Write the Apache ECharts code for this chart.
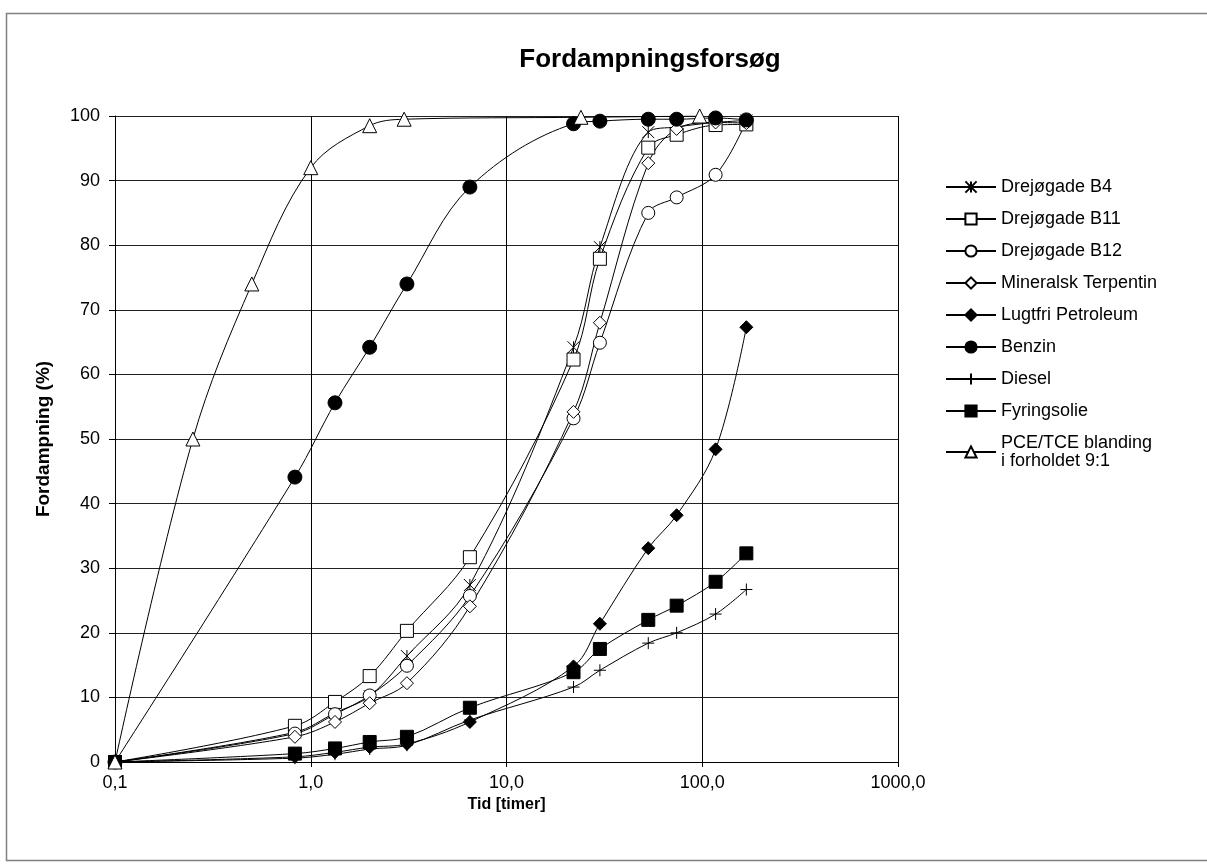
<!DOCTYPE html>
<html>
<head>
<meta charset="utf-8">
<script src="https://cdn.jsdelivr.net/npm/echarts@6/dist/echarts.min.js"></script>
<style>
html,body{margin:0;padding:0;background:#fff;}
#chart{width:1207px;height:868px;}
</style>
</head>
<body>
<div id="chart"></div>
<script>
// ---- data ----
const tid = [0.1, 0.83, 1.33, 2.0, 3.1, 6.5, 22, 30, 53, 74, 117, 168];
const drejogadeB4 = [0, 4.6, 7.6, 10.2, 16.4, 27.4, 64.2, 79.7, 97.5, 98.3, 99.0, 99.3];
const drejogadeB11 = [0, 5.6, 9.3, 13.3, 20.3, 31.7, 62.3, 77.9, 95.1, 97.1, 98.6, 98.7];
const drejogadeB12 = [0, 4.4, 7.4, 10.3, 14.9, 25.7, 53.2, 64.9, 85.0, 87.4, 90.9, 99.2];
const mineralskTerpentin = [0, 3.9, 6.2, 9.1, 12.2, 24.1, 54.2, 68.0, 92.7, 98.0, 99.0, 98.9];
const lugtfriPetroleum = [0, 0.8, 1.5, 2.3, 2.8, 6.2, 14.8, 21.4, 33.1, 38.2, 48.4, 67.3];
const benzin = [0, 44.1, 55.6, 64.2, 74.0, 89.0, 98.8, 99.2, 99.5, 99.5, 99.7, 99.4];
const diesel = [0, 0.6, 1.2, 2.0, 2.6, 6.5, 11.6, 14.2, 18.4, 20.0, 22.9, 26.7];
const fyringsolie = [0, 1.3, 2.1, 3.1, 3.9, 8.4, 13.9, 17.5, 22.0, 24.2, 27.9, 32.3];
const pceTid = [0.1, 0.25, 0.5, 1.0, 2.0, 3.0, 24, 97];
const pceTce = [0, 50, 74, 92, 98.5, 99.5, 99.8, 100];
const xTickLabels = {0.1: '0,1', 1: '1,0', 10: '10,0', 100: '100,0', 1000: '1000,0'};
const seriesNames = ['Drejøgade B4', 'Drejøgade B11', 'Drejøgade B12', 'Mineralsk Terpentin',
  'Lugtfri Petroleum', 'Benzin', 'Diesel', 'Fyringsolie', 'PCE/TCE blanding\ni forholdet 9:1'];

// ---- build ----
const FONT = '"Liberation Sans", Arial, sans-serif';
const pair = (xs, ys) => xs.map((x, i) => [x, ys[i]]);
const open = {color: '#fff', borderColor: '#000', borderWidth: 1};
const filled = {color: '#000', borderColor: '#000', borderWidth: 1};
const defs = [
  [drejogadeB4, 'path://M0,0L10,10M10,0L0,10M5,0L5,10', 12, filled, tid],
  [drejogadeB11, 'rect', 13, open, tid],
  [drejogadeB12, 'circle', 13, open, tid],
  [mineralskTerpentin, 'diamond', 13, open, tid],
  [lugtfriPetroleum, 'diamond', 13, filled, tid],
  [benzin, 'circle', 14, filled, tid],
  [diesel, 'path://M5,0L5,10M0,5L10,5', 12, filled, tid],
  [fyringsolie, 'rect', 13, filled, tid],
  [pceTce, 'triangle', 14, open, pceTid]
];
const series = defs.map((d, i) => ({
  name: seriesNames[i],
  type: 'line',
  data: pair(d[4], d[0]),
  symbol: d[1],
  symbolSize: d[2],
  smooth: 0.35,
  itemStyle: d[3],
  lineStyle: {color: '#000', width: 1},
  emphasis: {disabled: true},
  animation: false
}));

const chart = echarts.init(document.getElementById('chart'), null, {renderer: 'canvas'});
chart.setOption({
  backgroundColor: '#fff',
  animation: false,
  title: {
    text: 'Fordampningsforsøg',
    left: 645, top: 42, textAlign: 'center',
    textStyle: {fontFamily: FONT, fontSize: 26, fontWeight: 'bold', color: '#000'}
  },
  graphic: [{
    type: 'rect', silent: true, z: -1,
    shape: {x: 6.5, y: 13.5, width: 1215, height: 847},
    style: {fill: 'none', stroke: '#808080', lineWidth: 1.5}
  }],
  legend: {
    orient: 'vertical', left: 940, top: 173,
    itemWidth: 50, itemHeight: 14, itemGap: 14,
    textStyle: {fontFamily: FONT, fontSize: 18, color: '#000', lineHeight: 18},
    data: seriesNames
  },
  grid: {left: 115, top: 116, right: 309, bottom: 106, containLabel: false},
  xAxis: {
    type: 'log', logBase: 10, min: 0.1, max: 1000,
    name: 'Tid [timer]', nameLocation: 'middle', nameGap: 31,
    nameTextStyle: {fontFamily: FONT, fontSize: 16, fontWeight: 'bold', color: '#000'},
    axisLine: {lineStyle: {color: '#000', width: 1}},
    axisTick: {show: true, length: 5, lineStyle: {color: '#000'}},
    minorTick: {show: false},
    splitLine: {show: true, lineStyle: {color: '#000', width: 1}},
    axisLabel: {
      fontFamily: FONT, fontSize: 18, color: '#000', margin: 12,
      formatter: v => xTickLabels[Math.round(v * 10) / 10] || String(v)
    }
  },
  yAxis: {
    type: 'value', min: 0, max: 100, interval: 10,
    name: 'Fordampning (%)', nameLocation: 'middle', nameGap: 62,
    nameTextStyle: {fontFamily: FONT, fontSize: 19, fontWeight: 'bold', color: '#000'},
    axisLine: {show: true, lineStyle: {color: '#000', width: 1}},
    axisTick: {show: true, length: 6, lineStyle: {color: '#000'}},
    splitLine: {show: true, lineStyle: {color: '#222', width: 1}},
    axisLabel: {fontFamily: FONT, fontSize: 18, color: '#000', margin: 15}
  },
  series: series
});
</script>
</body>
</html>
